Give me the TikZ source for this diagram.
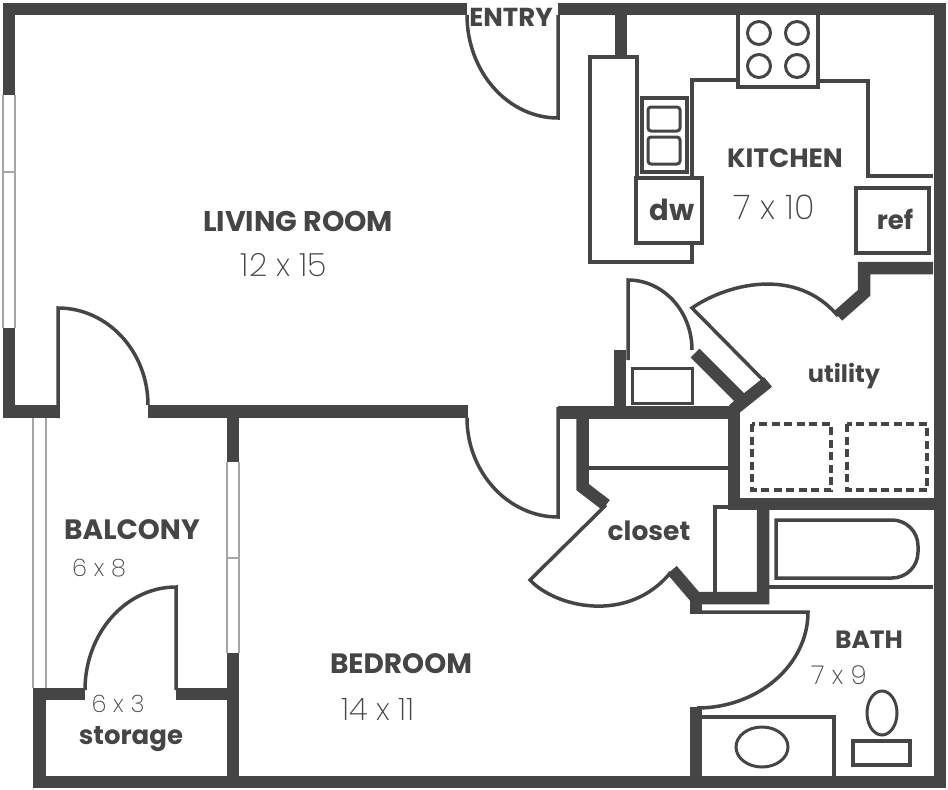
\documentclass[tikz,border=0pt]{standalone}
\usepackage{fontspec}
\setmainfont{Poppins}
\newfontfamily\dimfont{Poppins ExtraLight}
\usetikzlibrary{positioning}
\definecolor{wallgray}{gray}{0.27}
\tikzset{
	wall/.style={draw=wallgray, line width=12.5pt, line cap=butt, line join=miter},
	partition/.style={draw=wallgray, line width=3.5pt, line join=miter},
	fixture/.style={draw=wallgray, line width=3pt},
	dashbox/.style={draw=wallgray, line width=4pt, dash pattern=on 8pt off 4.5pt},
	windowline/.style={draw=black!35, line width=1.3pt},
	roomname/.style={text=wallgray, font=\bfseries\fontsize{#1}{#1}\selectfont, inner sep=0pt},
	roomdim/.style={text=wallgray, font=\dimfont\fontsize{#1}{#1}\selectfont, inner sep=0pt}
}
\begin{document}
\begin{tikzpicture}[x=1pt, y=-1pt]
	\useasboundingbox (0,0) rectangle (948,790);
	% outer walls
	\draw[wall] (9,95)--(9,9)--(467,9);
	\draw[wall] (9,328)--(9,411.5)--(58,411.5);
	\draw[wall] (148,411.5)--(468,411.5);
	\draw[wall] (558,9)--(940,9)--(940,782)--(39.5,782)--(39.5,694)--(85,694);
	\draw[wall] (176,694)--(233,694);
	\draw[wall] (233,411)--(233,462);
	\draw[wall] (233,653)--(233,782);
	% inner walls
	\draw[wall] (558,412.5)--(734,412.5)--(734,504)--(940,504);
	\draw[wall] (620,350)--(620,412);
	\draw[wall] (582.5,418)--(582.5,487)--(606,505);
	\draw[wall] (672,570)--(696,598)--(763,598)--(763,504);
	\draw[wall] (696,598)--(696,613);
	\draw[wall] (696,707)--(696,777);
	\draw[wall] (621,15)--(621,57);
	\draw[wall] (933,268)--(864,268)--(864,293)--(838,316);
	\draw[wall] (695,353)--(745,403);
	\draw[wall] (768,382)--(733,410);
	% windows
	\draw[windowline] (3,95)--(3,328) (15,95)--(15,328) (3,172)--(15,172);
	\draw[windowline] (33,418)--(33,688) (46,418)--(46,688);
	\draw[windowline] (227,462)--(227,653) (239,462)--(239,653) (227,558)--(239,558);
	% doors
	\draw[partition] (148,405) .. controls (148,352) and (108,308) .. (58,308)--(58,418);
	\draw[partition] (467,15) .. controls (467,72) and (508,118) .. (558,118)--(558,15);
	\draw[partition] (467,418) .. controls (467,472) and (508,517) .. (558,517)--(558,407);
	\draw[partition] (85,690) .. controls (85,633) and (126,587) .. (176,587)--(176,690);
	\draw[partition] (692,350) .. controls (692,311) and (663,280) .. (628,280)--(628,360);
	\draw[partition] (770,387)--(692,308) .. controls (725,285) and (795,265) .. (838,316);
	\draw[partition] (606,505)--(530,580) .. controls (555,607) and (628,625) .. (671,572);
	\draw[partition] (690,612)--(808,612) .. controls (808,665) and (758,708) .. (697,708);
	% closet
	\draw[partition] (588,468)--(728,468);
	\draw[partition] (760,507)--(715,507)--(715,593);
	% kitchen counters
	\draw[partition] (621,57)--(590,57)--(590,262)--(692,262)--(692,243);
	\draw[partition] (621,57)--(637,57)--(637,177);
	\draw[partition] (692,177)--(692,80)--(738,80);
	\draw[partition] (818,81)--(868,81)--(868,176)--(933,176);
	\draw[partition, fill=white] (738,15)--(738,87)--(818,87)--(818,15);
	\foreach \i in {759,797} \foreach \j in {33,66} \draw[fixture] (\i,\j) circle(11.5);
	\draw[partition] (642,98) rectangle (687,172);
	\draw[fixture, rounded corners=3pt] (648,107) rectangle (680,131);
	\draw[fixture, rounded corners=3pt] (648,137) rectangle (680,164);
	\draw[partition, fill=white] (636,178) rectangle (702,243);
	\draw[partition] (856,188) rectangle (929,253);
	% utility
	\draw[fixture] (632,368) rectangle (692,403);
	\draw[dashbox] (752,424) rectangle (831,490);
	\draw[dashbox] (847,424) rectangle (927,490);
	% bath
	\draw[partition] (768,587)--(933,587);
	\draw[partition] (776,578)--(776,520)[rounded corners=26pt]--(918,520)--(918,578)[sharp corners]--(776,578)--cycle;
	\draw[partition] (702,717)--(834,717)--(834,777);
	\draw[fixture] (762,747) ellipse(26 and 20);
	\draw[fixture] (882,713) ellipse(15 and 22);
	\draw[partition] (853,741) rectangle (910,765);
	% labels
	\node[roomname=26] (entry) at (511,17) {ENTRY};
	\node[roomname=28.5] (livingname) at (298,221) {LIVING ROOM};
	\node[roomdim=32] (livingdim) at (284,265) {12 x 15};
	\node[roomname=26.5] (kitchenname) at (785,158) {KITCHEN};
	\node[roomdim=34] (kitchendim) at (774,207) {7 x 10};
	\node[roomname=29] (dw) at (672,210) {dw};
	\node[roomname=26] (ref) at (895,219) {ref};
	\node[roomname=24] (utility) at (844,376) {utility};
	\node[roomname=26.5] (closet) at (649,531) {closet};
	\node[roomname=25] (bathname) at (869,640) {BATH};
	\node[roomdim=26] (bathdim) at (839,675) {7 x 9};
	\node[roomname=28] (bedroomname) at (401,664) {BEDROOM};
	\node[roomdim=31] (bedroomdim) at (378,709) {14 x 11};
	\node[roomname=28] (balconyname) at (132,530) {BALCONY};
	\node[roomdim=24] (balconydim) at (99,568) {6 x 8};
	\node[roomdim=24] (storagedim) at (118,704) {6 x 3};
	\node[roomname=26] (storage) at (131,739) {storage};
\end{tikzpicture}
\end{document}
